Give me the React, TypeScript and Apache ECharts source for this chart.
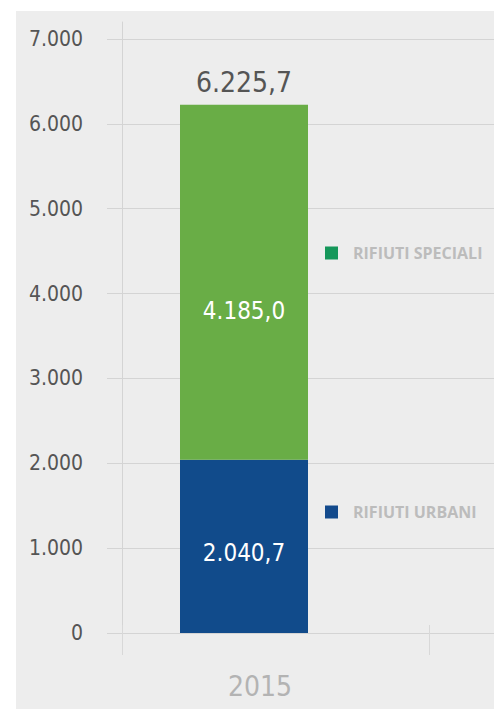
import React, { useEffect, useRef } from "react";
import * as echarts from "echarts";

const categories = ["2015"];
const urbani = [2040.7];
const speciali = [4185.0];
const yTicks = [0, 1000, 2000, 3000, 4000, 5000, 6000, 7000];
const seriesNames = ["RIFIUTI URBANI", "RIFIUTI SPECIALI"];

const NARROW = "'DejaVu Sans Condensed', 'Liberation Sans Narrow', sans-serif";

function fmt(v: number, dec: number): string {
  const fixed = v.toFixed(dec);
  const [intPart, decPart] = fixed.split(".");
  const withDots = intPart.replace(/\B(?=(\d{3})+(?!\d))/g, ".");
  return decPart !== undefined ? withDots + "," + decPart : withDots;
}

export default function App() {
  const ref = useRef<HTMLDivElement>(null);
  useEffect(() => {
    if (!ref.current) return;
    const chart = echarts.init(ref.current, undefined, { renderer: "svg" });
    const totals = categories.map((_, i) => urbani[i] + speciali[i]);
    const yMax = yTicks[yTicks.length - 1];
    const yStep = yTicks[1] - yTicks[0];
    chart.setOption({
      animation: false,
      backgroundColor: "#ffffff",
      graphic: [
        {
          type: "rect",
          z: -100,
          silent: true,
          shape: { x: 16, y: 11, width: 494 - 16, height: 709 - 11 },
          style: { fill: "#ededed" },
        },
      ],
      legend: {
        orient: "vertical",
        left: 325,
        top: 245,
        padding: 0,
        itemWidth: 13,
        itemHeight: 13,
        itemGap: 243,
        icon: "rect",
        selectedMode: false,
        textStyle: {
          color: "#bcbcbc",
          fontFamily: "'Open Sans', sans-serif",
          fontWeight: "bold",
          fontSize: 16,
          lineHeight: 16,
          padding: [0, 0, 0, 10],
        },
        data: [
          { name: seriesNames[1], itemStyle: { color: "#15975a" } },
          { name: seriesNames[0], itemStyle: { color: "#134a8c" } },
        ],
      },
      grid: [
        { left: 107, right: 0, top: 39, bottom: 76 },
        { left: 180, right: 186, top: 39, bottom: 76 },
        { left: 122, right: 65, top: 22, bottom: 84 },
      ],
      xAxis: [
        {
          gridIndex: 0,
          type: "category",
          data: categories,
          show: false,
        },
        {
          gridIndex: 1,
          type: "category",
          data: categories,
          axisLine: { show: false },
          axisTick: { show: false },
          axisLabel: {
            margin: 39,
            color: "#b3b3b3",
            fontFamily: NARROW,
            fontSize: 28,
            padding: [0, 0, 0, 32],
          },
        },
        {
          gridIndex: 2,
          type: "value",
          min: 0,
          max: 1,
          interval: 1,
          axisLine: { show: false },
          axisLabel: { show: false },
          splitLine: { show: false },
          axisTick: { show: true, length: 30, lineStyle: { color: "#d8d8d8", width: 1 } },
        },
      ],
      yAxis: [
        {
          gridIndex: 0,
          type: "value",
          min: 0,
          max: yMax,
          interval: yStep,
          axisLine: { show: false },
          axisTick: { show: false },
          splitLine: { lineStyle: { color: "#d4d4d4", width: 1 } },
          axisLabel: {
            margin: 24,
            color: "#555555",
            fontFamily: NARROW,
            fontSize: 21,
            formatter: (v: number) => fmt(v, 0),
          },
        },
        {
          gridIndex: 1,
          type: "value",
          min: 0,
          max: yMax,
          interval: yStep,
          show: false,
        },
        {
          gridIndex: 2,
          type: "value",
          min: 0,
          max: 1,
          axisLine: { show: true, lineStyle: { color: "#d4d4d4", width: 1 } },
          axisTick: { show: false },
          axisLabel: { show: false },
          splitLine: { show: false },
        },
      ],
      series: [
        {
          name: seriesNames[0],
          type: "bar",
          xAxisIndex: 1,
          yAxisIndex: 1,
          stack: "tot",
          barWidth: 128,
          data: urbani,
          itemStyle: { color: "#114b8b" },
          label: {
            show: true,
            position: "inside",
            offset: [0, 7],
            color: "#ffffff",
            fontFamily: NARROW,
            fontSize: 24,
            formatter: (p: any) => fmt(p.value, 1),
          },
        },
        {
          name: seriesNames[1],
          type: "bar",
          xAxisIndex: 1,
          yAxisIndex: 1,
          stack: "tot",
          barWidth: 128,
          data: speciali,
          itemStyle: { color: "#69ad46" },
          label: {
            show: true,
            position: "inside",
            offset: [0, 29],
            color: "#ffffff",
            fontFamily: NARROW,
            fontSize: 24,
            formatter: (p: any) => fmt(p.value, 1),
          },
        },
        {
          name: "totale",
          type: "bar",
          xAxisIndex: 1,
          yAxisIndex: 1,
          stack: "tot",
          barWidth: 128,
          data: categories.map(() => 0),
          itemStyle: { color: "transparent" },
          label: {
            show: true,
            position: "top",
            distance: 8,
            color: "#555555",
            fontFamily: NARROW,
            fontSize: 28,
            formatter: (p: any) => fmt(totals[p.dataIndex], 1),
          },
        },
      ],
    });
    return () => chart.dispose();
  }, []);
  return (
    <div
      ref={ref}
      style={{ position: "fixed", left: 0, top: 0, width: 494, height: 709 }}
    />
  );
}
